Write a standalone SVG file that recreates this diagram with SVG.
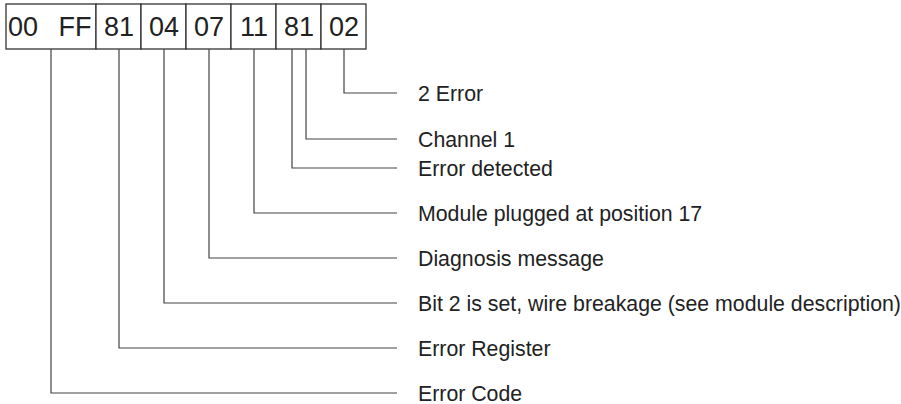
<svg xmlns="http://www.w3.org/2000/svg" width="901" height="404" viewBox="0 0 901 404">
<style>
.cell{fill:#fff;stroke:#333;stroke-width:1.3}
.bt{font-family:"Liberation Sans",Arial,sans-serif;font-size:27px;fill:#222;text-anchor:middle}
.lbl{font-family:"Liberation Sans",Arial,sans-serif;font-size:21.3px;fill:#222}
.conn{fill:none;stroke:#444;stroke-width:1.2}
</style>
<rect width="901" height="404" fill="#fff"/>
<g id="cell-00FF"><rect class="cell" x="6" y="4" width="90" height="45"/><text class="bt" x="23" y="36">00</text><text class="bt" x="75" y="36">FF</text></g>
<g id="cell-81a"><rect class="cell" x="96" y="4" width="45" height="45"/><text class="bt" x="119" y="36">81</text></g>
<g id="cell-04"><rect class="cell" x="141" y="4" width="45" height="45"/><text class="bt" x="164" y="36">04</text></g>
<g id="cell-07"><rect class="cell" x="186" y="4" width="45" height="45"/><text class="bt" x="209" y="36">07</text></g>
<g id="cell-11"><rect class="cell" x="231" y="4" width="45" height="45"/><text class="bt" x="254" y="36">11</text></g>
<g id="cell-81b"><rect class="cell" x="276" y="4" width="45" height="45"/><text class="bt" x="299" y="36">81</text></g>
<g id="cell-02"><rect class="cell" x="321" y="4" width="45" height="45"/><text class="bt" x="344" y="36">02</text></g>
<g id="connectors">
<polyline class="conn" points="344,49 344,93 397,93"/>
<polyline class="conn" points="306,49 306,139 397,139"/>
<polyline class="conn" points="292,49 292,168 397,168"/>
<polyline class="conn" points="254,49 254,213 397,213"/>
<polyline class="conn" points="209,49 209,258 397,258"/>
<polyline class="conn" points="164,49 164,303 397,303"/>
<polyline class="conn" points="119,49 119,348 397,348"/>
<polyline class="conn" points="51,49 51,393 397,393"/>
</g>
<g id="labels">
<text class="lbl" x="418" y="100.5">2 Error</text>
<text class="lbl" x="418" y="146.5">Channel 1</text>
<text class="lbl" x="418" y="175.5">Error detected</text>
<text class="lbl" x="418" y="220.5">Module plugged at position 17</text>
<text class="lbl" x="418" y="265.5">Diagnosis message</text>
<text class="lbl" x="418" y="310.5">Bit 2 is set, wire breakage (see module description)</text>
<text class="lbl" x="418" y="355.5">Error Register</text>
<text class="lbl" x="418" y="400.5">Error Code</text>
</g>
</svg>
